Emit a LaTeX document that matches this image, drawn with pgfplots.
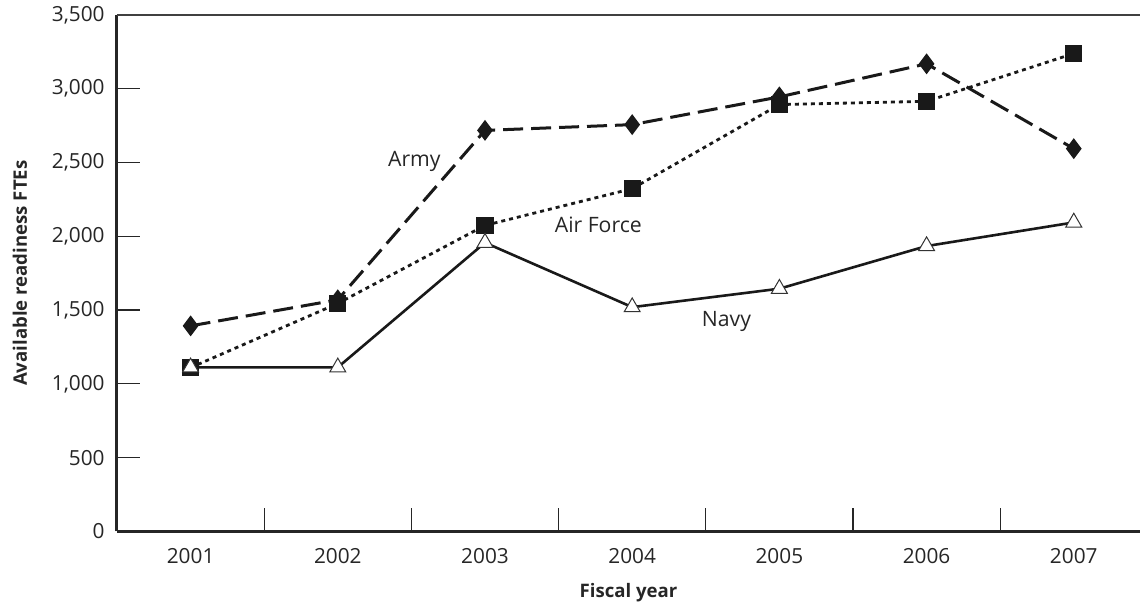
\documentclass[border=0pt]{standalone}
\usepackage{fontspec}
\setmainfont{Open Sans}
\usepackage{pgfplots}
\pgfplotsset{compat=1.18}
\begin{document}
\fontsize{10.5pt}{12pt}\selectfont
\begin{tikzpicture}
\path[use as bounding box] (0,0) rectangle (570pt,303pt);
\begin{axis}[
  at={(58.5pt,37.3pt)}, anchor=south west,
  scale only axis, width=511.5pt, height=258.2pt,
  xmin=0.5, xmax=7.45, ymin=0, ymax=3500,
  axis x line*=bottom, axis y line*=left,
  axis line style={line width=1.5pt, color=black!85},
  xtick={1,...,7},
  xticklabels={2001,2002,2003,2004,2005,2006,2007},
  minor xtick={1.5,2.5,3.5,4.5,5.5,6.5},
  major x tick style={draw=none},
  minor x tick style={line width=0.6pt, color=black!85},
  minor tick length=11.5pt,
  ytick={0,500,...,3500},
  y tick style={line width=0.6pt, color=black!85},
  major tick length=11.5pt,
  tick align=inside,
  yticklabel style={/pgf/number format/1000 sep={,}, anchor=east, xshift=-2.5pt},
  /pgf/number format/assume math mode=true,
  ticklabel style={font=\fontsize{10.4pt}{12pt}\selectfont, color=black!85},
  xticklabel style={anchor=base, yshift=-15.8pt},
  xlabel={\textbf{Fiscal year}},
  ylabel={\textbf{Available readiness FTEs}},
  label style={font=\fontsize{9.3pt}{11pt}\selectfont, color=black!85},
  xlabel style={at={(axis description cs:0.5,-0.1193)}, anchor=center},
  ylabel style={at={(axis description cs:-0.0948,0.5)}, anchor=center},
  clip=false,
]
\draw[line width=1pt, color=black!75] (rel axis cs:0,1) -- (rel axis cs:1,1);
% Army
\addplot[color=black!90, line width=1.5pt, dash pattern=on 10pt off 4pt,
  mark=diamond*, mark size=4pt, mark options={solid, fill=black!90}]
  coordinates {(1,1393) (2,1570) (3,2718) (4,2757) (5,2945) (6,3169) (7,2594)};
% Air Force
\addplot[color=black!90, line width=1.4pt, dash pattern=on 2pt off 2pt,
  mark=square*, mark size=3.6pt, mark options={solid, fill=black!90}]
  coordinates {(1,1110) (2,1545) (3,2074) (4,2323) (5,2893) (6,2915) (7,3239)};
% Navy
\addplot[color=black!90, line width=1.3pt,
  mark=triangle*, mark size=4.6pt, mark options={solid, fill=white, draw=black!80, line width=0.5pt}]
  coordinates {(1,1112) (2,1112) (3,1957) (4,1520) (5,1645) (6,1934) (7,2094)};
\node[color=black!85, font=\fontsize{10.6pt}{12pt}\selectfont] at (axis cs:2.52,2506) {Army};
\node[color=black!85, font=\fontsize{10.6pt}{12pt}\selectfont] at (axis cs:3.77,2079) {Air Force};
\node[color=black!85, font=\fontsize{10.6pt}{12pt}\selectfont] at (axis cs:4.64,1421) {Navy};
\end{axis}
\end{tikzpicture}
\end{document}
